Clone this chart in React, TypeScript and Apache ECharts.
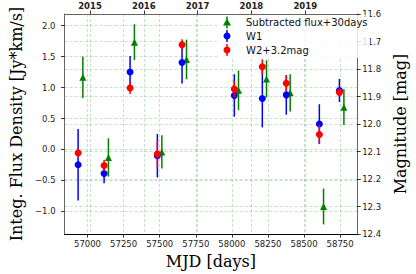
import React, { useEffect, useRef } from "react";
import * as echarts from "echarts";

// ---- data ----
const w1Mjd = [56935, 57115, 57295, 57484, 57655, 58017, 58211, 58377, 58606, 58745];
const w1Mag = [12.148, 12.18, 11.811, 12.115, 11.776, 11.896, 11.907, 11.894, 12.0, 11.878];
const w1Err = [0.13, 0.035, 0.058, 0.079, 0.077, 0.077, 0.105, 0.072, 0.072, 0.042];
const w2Mag = [12.105, 12.151, 11.869, 12.109, 11.712, 11.873, 11.792, 11.852, 12.038, 11.885];
const w2Err = [0.015, 0.021, 0.022, 0.05, 0.02, 0.03, 0.027, 0.028, 0.035, 0.015];
const fluxMjd = [56968, 57145, 57325, 57515, 57686, 58046, 58240, 58404, 58635, 58776];
const flux = [1.167, -0.128, 1.733, -0.039, 1.455, 0.957, 1.14, 0.915, -0.92, 0.684];
const fluxErr = [0.336, 0.31, 0.29, 0.27, 0.32, 0.32, 0.3, 0.3, 0.29, 0.29];

const mjdTicks = [57000, 57250, 57500, 57750, 58000, 58250, 58500, 58750];
const yearTicks = [2015, 2016, 2017, 2018, 2019];
const fluxTicks = [-1.0, -0.5, 0.0, 0.5, 1.0, 1.5, 2.0];
const magTicks = [11.6, 11.7, 11.8, 11.9, 12.0, 12.1, 12.2, 12.3, 12.4];

const seriesNames = ["Subtracted flux+30days", "W1", "W2+3.2mag"];

const GREEN = "#008000";
const BLUE = "#0000ff";
const RED = "#ff0000";
const GRID = "rgba(0,128,0,0.22)";
const SANS = "DejaVu Sans";
const SERIF = "DejaVu Serif";

const errRender = (color: string) => (params: any, api: any) => {
  const x = api.value(0);
  const y = api.value(1);
  const e = api.value(2);
  const p1 = api.coord([x, y - e]);
  const p2 = api.coord([x, y + e]);
  return {
    type: "line",
    shape: { x1: p1[0], y1: p1[1], x2: p2[0], y2: p2[1] },
    style: { stroke: color, lineWidth: 1.5 },
  };
};

const fmtMinus = (v: number) => {
  const s = v.toFixed(1);
  return s.replace("-", "\u2212");
};

export default function App() {
  const ref = useRef<HTMLDivElement>(null);
  useEffect(() => {
    if (!ref.current) return;
    const chart = echarts.init(ref.current, undefined, { renderer: "svg" });

    const fluxData = fluxMjd.map((m, i) => [m, flux[i], fluxErr[i]]);
    const w1Data = w1Mjd.map((m, i) => [m, w1Mag[i], w1Err[i]]);
    const w2Data = w1Mjd.map((m, i) => [m, w2Mag[i], w2Err[i]]);

    const splitLine = { show: true, lineStyle: { color: GRID, type: [3, 2], width: 1 } };
    const tick = { show: true, length: 3.5, inside: false, lineStyle: { color: "#000", width: 0.8 } };
    const label = { color: "#222", fontFamily: SANS, fontSize: 8.5 };

    const legendY = [22.5, 36, 50];
    const legendColors = [GREEN, BLUE, RED];
    const legendGraphics: any[] = [
      {
        type: "rect",
        shape: { x: 217, y: 15, width: 153, height: 43, r: 2 },
        style: { fill: "rgba(255,255,255,0.8)" },
        z: 10,
      },
    ];
    seriesNames.forEach((n, i) => {
      const y = legendY[i];
      legendGraphics.push({
        type: "line",
        shape: { x1: 227, y1: y - 6, x2: 227, y2: y + 6 },
        style: { stroke: legendColors[i], lineWidth: 1.5 },
        z: 11,
      });
      if (i === 0) {
        legendGraphics.push({
          type: "polygon",
          shape: { points: [[227, y - 4], [231, y + 3], [223, y + 3]] },
          style: { fill: GREEN },
          z: 11,
        });
      } else {
        legendGraphics.push({
          type: "circle",
          shape: { cx: 227, cy: y, r: 3.5 },
          style: { fill: legendColors[i] },
          z: 11,
        });
      }
      legendGraphics.push({
        type: "text",
        x: 246,
        y: y,
        style: {
          text: n,
          fill: "#111",
          font: `10px "${SANS}"`,
          verticalAlign: "middle",
          align: "left",
        },
        z: 11,
      });
    });

    chart.setOption({
      animation: false,
      backgroundColor: "#fff",
      grid: { left: 46, right: 44, top: 14, bottom: 34, containLabel: false },
      xAxis: [
        {
          type: "value",
          position: "bottom",
          min: 56841,
          max: 58868,
          name: "MJD [days]",
          nameLocation: "middle",
          nameGap: 13,
          nameTextStyle: { fontFamily: SERIF, fontSize: 16, color: "#000", verticalAlign: "top" },
          axisLine: { show: true, onZero: false, lineStyle: { color: "#000", width: 1.2 } },
          axisTick: { ...tick, customValues: mjdTicks },
          axisLabel: { ...label, margin: 5, customValues: mjdTicks, formatter: (v: number) => String(Math.round(v)) },
          splitLine,
        },
        {
          type: "value",
          position: "top",
          min: 2014.527,
          max: 2019.965,
          axisLine: { show: true, onZero: false, lineStyle: { color: "#666", width: 1 } },
          axisTick: { ...tick, customValues: yearTicks },
          axisLabel: {
            ...label,
            fontWeight: "bold",
            margin: 4,
            customValues: yearTicks,
            formatter: (v: number) => String(Math.round(v)),
          },
          splitLine,
        },
      ],
      yAxis: [
        {
          type: "value",
          position: "left",
          min: -1.367,
          max: 2.189,
          name: "Integ. Flux Density [Jy*km/s]",
          nameLocation: "middle",
          nameRotate: 90,
          nameGap: 27,
          nameTextStyle: { fontFamily: SERIF, fontSize: 16, color: "#000" },
          axisLine: { show: true, onZero: false, lineStyle: { color: "#666", width: 1 } },
          axisTick: { ...tick, customValues: fluxTicks },
          axisLabel: { ...label, margin: 9, customValues: fluxTicks, formatter: fmtMinus },
          splitLine,
        },
        {
          type: "value",
          position: "right",
          min: 11.6,
          max: 12.4,
          inverse: true,
          name: "Magnitude [mag]",
          nameLocation: "middle",
          nameRotate: 90,
          nameGap: 26,
          nameTextStyle: { fontFamily: SERIF, fontSize: 16, color: "#000" },
          axisLine: { show: true, onZero: false, lineStyle: { color: "#666", width: 1 } },
          axisTick: { ...tick, customValues: magTicks },
          axisLabel: { ...label, margin: 5, customValues: magTicks, formatter: (v: number) => v.toFixed(1) },
          splitLine,
        },
      ],
      series: [
        {
          name: seriesNames[0] + " err",
          type: "custom",
          xAxisIndex: 0,
          yAxisIndex: 0,
          renderItem: errRender(GREEN),
          encode: { x: 0, y: 1 },
          data: fluxData,
          z: 2,
        },
        {
          name: seriesNames[0],
          type: "scatter",
          xAxisIndex: 0,
          yAxisIndex: 0,
          symbol: "triangle",
          symbolSize: 7,
          itemStyle: { color: GREEN, opacity: 1 },
          data: fluxData.map((d) => [d[0], d[1]]),
          z: 3,
        },
        {
          name: seriesNames[1] + " err",
          type: "custom",
          xAxisIndex: 0,
          yAxisIndex: 1,
          renderItem: errRender(BLUE),
          encode: { x: 0, y: 1 },
          data: w1Data,
          z: 4,
        },
        {
          name: seriesNames[1],
          type: "scatter",
          xAxisIndex: 0,
          yAxisIndex: 1,
          symbol: "circle",
          symbolSize: 7,
          itemStyle: { color: BLUE, opacity: 1 },
          data: w1Data.map((d) => [d[0], d[1]]),
          z: 5,
        },
        {
          name: seriesNames[2] + " err",
          type: "custom",
          xAxisIndex: 0,
          yAxisIndex: 1,
          renderItem: errRender(RED),
          encode: { x: 0, y: 1 },
          data: w2Data,
          z: 6,
        },
        {
          name: seriesNames[2],
          type: "scatter",
          xAxisIndex: 0,
          yAxisIndex: 1,
          symbol: "circle",
          symbolSize: 7,
          itemStyle: { color: RED, opacity: 1 },
          data: w2Data.map((d) => [d[0], d[1]]),
          z: 7,
        },
      ],
      graphic: legendGraphics,
    });
    return () => chart.dispose();
  }, []);
  return (
    <div
      ref={ref}
      style={{ position: "fixed", left: 0, top: 0, width: 416, height: 274 }}
    />
  );
}
